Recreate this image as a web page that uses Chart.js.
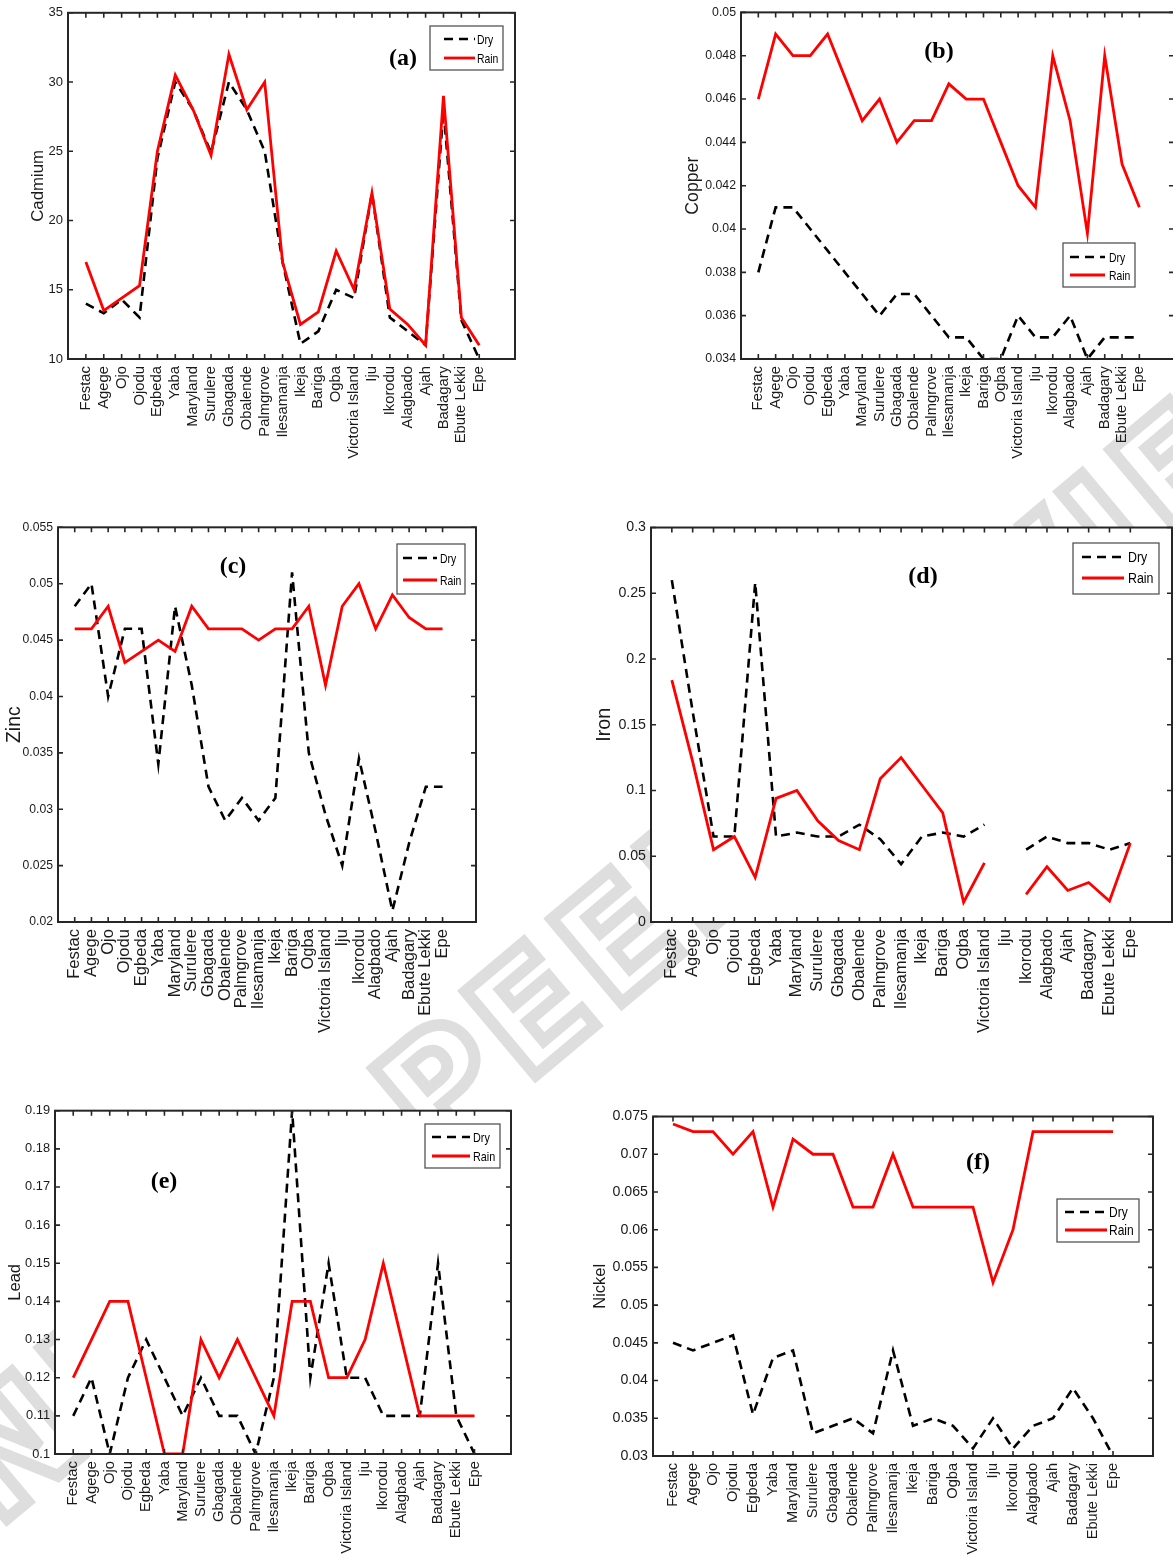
<!DOCTYPE html>
<html>
<head>
<meta charset="utf-8">
<title>Heavy metals - dry vs rain season</title>
<script src="https://cdn.jsdelivr.net/npm/chart.js@4.4.0/dist/chart.umd.min.js"></script>
<style>
  html, body { margin: 0; padding: 0; background: #fff; }
  body { width: 1173px; height: 1555px; position: relative; overflow: hidden; }
  canvas.panel { position: absolute; z-index: 2; }
  .watermark {
    position: absolute; left: 610px; top: 945px; z-index: 1;
    transform: translate(-50%, -50%) rotate(-40deg);
    white-space: nowrap; font: bold 150px "DejaVu Sans", sans-serif;
    letter-spacing: 10px; color: transparent;
    -webkit-text-stroke: 12px #dedede;
  }
</style>
</head>
<body>
<div class="watermark">UNDER PEER REVIEW</div>
<canvas id="cd" class="panel"></canvas>
<canvas id="cu" class="panel"></canvas>
<canvas id="zn" class="panel"></canvas>
<canvas id="fe" class="panel"></canvas>
<canvas id="pb" class="panel"></canvas>
<canvas id="ni" class="panel"></canvas>
<script>
// sampling sites (x axis)
const sites = ["Festac", "Agege", "Ojo", "Ojodu", "Egbeda", "Yaba", "Maryland", "Surulere",
  "Gbagada", "Obalende", "Palmgrove", "Ilesamanja", "Ikeja", "Bariga", "Ogba", "Victoria Island",
  "Iju", "Ikorodu", "Alagbado", "Ajah", "Badagary", "Ebute Lekki", "Epe"];

// (a) Cadmium
const cadmiumDry  = [14, 13.3, 14.3, 13, 24.5, 30, 28, 24.9, 30, 28, 25, 17, 11.1, 12, 15, 14.4, 22, 13, 12, 11, 28, 12.8, 10];
const cadmiumRain = [17, 13.5, 14.4, 15.3, 25, 30.5, 28, 24.7, 32, 28, 30, 17, 12.5, 13.4, 17.8, 15, 22, 13.6, 12.5, 11, 29, 13, 11];
const cadmiumTicks = [10, 15, 20, 25, 30, 35];

// (b) Copper
const copperDry  = [0.038, 0.041, 0.041, 0.040, 0.039, 0.038, 0.037, 0.036, 0.037, 0.037, 0.036, 0.035, 0.035, 0.034, 0.034, 0.036, 0.035, 0.035, 0.036, 0.034, 0.035, 0.035, 0.035];
const copperRain = [0.046, 0.049, 0.048, 0.048, 0.049, 0.047, 0.045, 0.046, 0.044, 0.045, 0.045, 0.0467, 0.046, 0.046, 0.044, 0.042, 0.041, 0.048, 0.045, 0.0398, 0.048, 0.043, 0.041];
const copperTicks = [0.034, 0.036, 0.038, 0.04, 0.042, 0.044, 0.046, 0.048, 0.05];

// (c) Zinc
const zincDry  = [0.048, 0.050, 0.040, 0.046, 0.046, 0.034, 0.048, 0.041, 0.032, 0.029, 0.031, 0.029, 0.031, 0.051, 0.035, 0.0295, 0.025, 0.0345, 0.028, 0.021, 0.027, 0.032, 0.032];
const zincRain = [0.046, 0.046, 0.048, 0.043, 0.044, 0.045, 0.044, 0.048, 0.046, 0.046, 0.046, 0.045, 0.046, 0.046, 0.048, 0.041, 0.048, 0.050, 0.046, 0.049, 0.047, 0.046, 0.046];
const zincTicks = [0.02, 0.025, 0.03, 0.035, 0.04, 0.045, 0.05, 0.055];

// (d) Iron (no value for Iju)
const ironDry  = [0.26, 0.16, 0.065, 0.065, 0.258, 0.065, 0.068, 0.065, 0.065, 0.074, 0.063, 0.044, 0.065, 0.068, 0.065, 0.074, null, 0.055, 0.065, 0.060, 0.060, 0.055, 0.060];
const ironRain = [0.184, 0.122, 0.055, 0.065, 0.034, 0.094, 0.100, 0.077, 0.062, 0.055, 0.109, 0.125, 0.104, 0.083, 0.015, 0.045, null, 0.021, 0.042, 0.024, 0.030, 0.016, 0.060];
const ironTicks = [0, 0.05, 0.1, 0.15, 0.2, 0.25, 0.3];

// (e) Lead
const leadDry  = [0.11, 0.12, 0.10, 0.12, 0.13, 0.12, 0.11, 0.12, 0.11, 0.11, 0.10, 0.12, 0.19, 0.12, 0.15, 0.12, 0.12, 0.11, 0.11, 0.11, 0.15, 0.11, 0.10];
const leadRain = [0.12, 0.13, 0.14, 0.14, 0.12, 0.10, 0.10, 0.13, 0.12, 0.13, 0.12, 0.11, 0.14, 0.14, 0.12, 0.12, 0.13, 0.15, 0.13, 0.11, 0.11, 0.11, 0.11];
const leadTicks = [0.1, 0.11, 0.12, 0.13, 0.14, 0.15, 0.16, 0.17, 0.18, 0.19];

// (f) Nickel
const nickelDry  = [0.045, 0.044, 0.045, 0.046, 0.0355, 0.043, 0.044, 0.033, 0.034, 0.035, 0.033, 0.044, 0.034, 0.035, 0.034, 0.031, 0.035, 0.031, 0.034, 0.035, 0.039, 0.035, 0.030];
const nickelRain = [0.074, 0.073, 0.073, 0.070, 0.073, 0.063, 0.072, 0.070, 0.070, 0.063, 0.063, 0.070, 0.063, 0.063, 0.063, 0.063, 0.053, 0.060, 0.073, 0.073, 0.073, 0.073, 0.073];
const nickelTicks = [0.03, 0.035, 0.04, 0.045, 0.05, 0.055, 0.06, 0.065, 0.07, 0.075];

const AXIS = "#262626";
const SANS = '"Liberation Sans", Arial, sans-serif';

// layout of each panel on the page (plot box in page px)
const panels = [
  { id: "cd", name: "Cadmium", tag: "(a)", dry: cadmiumDry, rain: cadmiumRain, ticks: cadmiumTicks,
    box: [68, 11, 515, 359], padL: 66, padT: 11, padR: 6, padB: 120, titleX: 38, titleSize: 16.8,
    xFont: 14.8, yFont: 13, tagAt: [403, 59],
    legend: { box: [430, 26, 73, 44], x0: 444, x1: 475, tx: 477, rows: [39, 58], size: 13 } },
  { id: "cu", name: "Copper", tag: "(b)", dry: copperDry, rain: copperRain, ticks: copperTicks,
    box: [741, 9, 1174, 359], padL: 60, padT: 9, padR: 4, padB: 120, titleX: 693, titleSize: 17.7,
    xFont: 14.8, yFont: 12.3, tagAt: [939, 52],
    legend: { box: [1063, 243, 72, 44], x0: 1070, x1: 1105, tx: 1109, rows: [257, 275], size: 13 } },
  { id: "zn", name: "Zinc", tag: "(c)", dry: zincDry, rain: zincRain, ticks: zincTicks,
    box: [58, 527, 476, 922], padL: 58, padT: 12, padR: 6, padB: 125, titleX: 14.5, titleSize: 19.4,
    xFont: 16.6, yFont: 12.2, tagAt: [233, 567],
    legend: { box: [397, 544, 68, 50], x0: 403, x1: 437, tx: 440, rows: [558, 580], size: 13 } },
  { id: "fe", name: "Iron", tag: "(d)", dry: ironDry, rain: ironRain, ticks: ironTicks,
    box: [651, 526, 1172, 922], padL: 61, padT: 12, padR: 4, padB: 125, titleX: 605, titleSize: 19.7,
    xFont: 16.6, yFont: 14.2, tagAt: [923, 577],
    legend: { box: [1073, 543, 86, 51], x0: 1082, x1: 1124, tx: 1128, rows: [557, 578], size: 15.5 } },
  { id: "pb", name: "Lead", tag: "(e)", dry: leadDry, rain: leadRain, ticks: leadTicks,
    box: [55, 1110, 511, 1454], padL: 55, padT: 12, padR: 6, padB: 101, titleX: 15, titleSize: 16.5,
    xFont: 14.8, yFont: 12.8, tagAt: [164, 1182],
    legend: { box: [425, 1124, 75, 44], x0: 432, x1: 470, tx: 473, rows: [1137, 1156], size: 13.5 } },
  { id: "ni", name: "Nickel", tag: "(f)", dry: nickelDry, rain: nickelRain, ticks: nickelTicks,
    box: [653, 1115, 1153, 1456], padL: 63, padT: 12, padR: 6, padB: 99, titleX: 600, titleSize: 16.5,
    xFont: 14.6, yFont: 14.2, tagAt: [978, 1163],
    legend: { box: [1057, 1199, 82, 43], x0: 1065, x1: 1107, tx: 1109, rows: [1212, 1230], size: 15 } }
];

// box, inward ticks, legend and panel letter (MATLAB look)
const framePlugin = {
  id: "frame",
  beforeDraw(chart) {
    const { ctx, chartArea: a } = chart;
    ctx.save();
    ctx.fillStyle = "#fff";
    ctx.fillRect(a.left, a.top, a.right - a.left, a.bottom - a.top);
    ctx.restore();
  },
  afterDraw(chart, args, opts) {
    const { ctx, chartArea: a, scales: { x, y } } = chart;
    const [ox, oy] = opts.origin;
    ctx.save();
    ctx.strokeStyle = AXIS;
    ctx.lineWidth = 1.6;
    ctx.beginPath();
    x.ticks.forEach(t => {
      const px = x.getPixelForValue(t.value);
      ctx.moveTo(px, a.bottom); ctx.lineTo(px, a.bottom - 5);
      ctx.moveTo(px, a.top); ctx.lineTo(px, a.top + 5);
    });
    y.ticks.forEach(t => {
      const py = y.getPixelForValue(t.value);
      ctx.moveTo(a.left, py); ctx.lineTo(a.left + 5, py);
      ctx.moveTo(a.right, py); ctx.lineTo(a.right - 5, py);
    });
    ctx.stroke();
    ctx.lineWidth = 2;
    ctx.strokeRect(a.left, a.top, a.right - a.left, a.bottom - a.top);

    // legend
    const lg = opts.legend;
    ctx.fillStyle = "#fff";
    ctx.fillRect(lg.box[0] - ox, lg.box[1] - oy, lg.box[2], lg.box[3]);
    ctx.strokeStyle = "#555";
    ctx.lineWidth = 1.3;
    ctx.strokeRect(lg.box[0] - ox, lg.box[1] - oy, lg.box[2], lg.box[3]);
    ["Dry", "Rain"].forEach((name, i) => {
      const ds = chart.data.datasets.find(d => d.label === name);
      const ry = lg.rows[i] - oy;
      ctx.strokeStyle = ds.borderColor;
      ctx.lineWidth = ds.borderWidth;
      ctx.setLineDash(ds.borderDash || []);
      ctx.beginPath();
      ctx.moveTo(lg.x0 - ox, ry); ctx.lineTo(lg.x1 - ox, ry);
      ctx.stroke();
      ctx.setLineDash([]);
      // narrow lettering, as in the source figure
      ctx.save();
      ctx.translate(lg.tx - ox, ry + 1);
      ctx.scale(0.8, 1);
      ctx.fillStyle = "#000";
      ctx.font = lg.size + "px " + SANS;
      ctx.textAlign = "left";
      ctx.textBaseline = "middle";
      ctx.fillText(name, 0, 0);
      ctx.restore();
    });

    // panel letter
    ctx.fillStyle = "#000";
    ctx.font = 'bold 24px "Liberation Serif", "Times New Roman", serif';
    ctx.textAlign = "center";
    ctx.textBaseline = "middle";
    ctx.fillText(opts.tag, opts.tagAt[0] - ox, opts.tagAt[1] - oy);
    ctx.restore();
  }
};

panels.forEach(p => {
  const [l, t, r, b] = p.box;
  const left = l - p.padL, top = t - p.padT;
  const canvas = document.getElementById(p.id);
  canvas.width = (r - l) + p.padL + p.padR;
  canvas.height = (b - t) + p.padT + p.padB;
  canvas.style.left = left + "px";
  canvas.style.top = top + "px";

  const toPoints = arr => arr.map((v, i) => ({ x: i + 1, y: v }));
  const titleLine = p.titleSize * 1.2;

  new Chart(canvas, {
    type: "line",
    data: {
      datasets: [
        { label: "Rain", data: toPoints(p.rain), borderColor: "#ff0000", borderWidth: 2.8,
          pointRadius: 0, tension: 0, fill: false },
        { label: "Dry", data: toPoints(p.dry), borderColor: "#000000", borderWidth: 2.6,
          borderDash: [9, 6], pointRadius: 0, tension: 0, fill: false }
      ]
    },
    options: {
      responsive: false,
      animation: false,
      devicePixelRatio: 1,
      layout: { padding: { left: 0, top: p.padT, right: p.padR, bottom: 0 } },
      plugins: {
        legend: { display: false },
        tooltip: { enabled: false },
        frame: { origin: [left, top], legend: p.legend, tag: p.tag, tagAt: p.tagAt }
      },
      scales: {
        x: {
          type: "linear",
          min: 0,
          max: sites.length + 2,
          grid: { display: false, drawTicks: false },
          border: { display: false },
          afterBuildTicks: s => { s.ticks = sites.map((_, i) => ({ value: i + 1 })); },
          afterFit: s => { s.height = p.padB; },
          ticks: {
            autoSkip: false, minRotation: 90, maxRotation: 90, padding: 7, color: "#1a1a1a",
            font: { family: SANS, size: p.xFont },
            callback: v => sites[v - 1]
          }
        },
        y: {
          min: p.ticks[0],
          max: p.ticks[p.ticks.length - 1],
          grid: { display: false, drawTicks: false },
          border: { display: false },
          afterBuildTicks: s => { s.ticks = p.ticks.map(v => ({ value: v })); },
          afterFit: s => { s.width = p.padL; },
          ticks: {
            padding: 5, color: "#1a1a1a",
            font: { family: SANS, size: p.yFont },
            callback: v => String(v)
          },
          title: {
            display: true, text: p.name, color: "#1a1a1a",
            font: { family: SANS, size: p.titleSize },
            padding: { top: Math.max(0, p.titleX - left - titleLine / 2), bottom: 0 }
          }
        }
      }
    },
    plugins: [framePlugin]
  });
});
</script>
</body>
</html>
